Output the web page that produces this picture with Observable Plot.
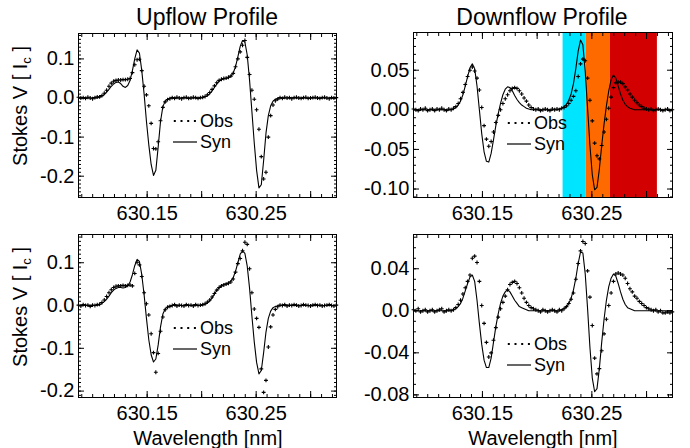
<!DOCTYPE html>
<html>
<head>
<meta charset="utf-8">
<script src="https://cdn.jsdelivr.net/npm/d3@7"></script>
<script src="https://cdn.jsdelivr.net/npm/@observablehq/plot@0.6"></script>
<style>
  body { margin: 0; background: #fff; }
  #chart { position: relative; width: 690px; height: 448px; font-family: "Liberation Sans", Arial, sans-serif; color: #000; overflow: hidden; }
  .panel { position: absolute; }
  .lbl { position: absolute; white-space: nowrap; transform: translate(-50%, -50%); line-height: 1; }
  .title { font-size: 23px; }
  .xlabel { font-size: 20px; }
  .ylabel { font-size: 20px; transform: translate(-50%, -50%) rotate(-90deg); }
  .ylabel sub { font-size: 13px; vertical-align: -4px; }
  .legend { position: absolute; overflow: visible; }
</style>
</head>
<body>
<div id="chart"></div>
<script>
// ---- data ----
const wavelength = [
  630.08700, 630.08915, 630.09130, 630.09345, 630.09560, 630.09775, 630.09990, 630.10205, 630.10420, 630.10635,
  630.10850, 630.11065, 630.11280, 630.11495, 630.11710, 630.11925, 630.12140, 630.12355, 630.12570, 630.12785,
  630.13000, 630.13215, 630.13430, 630.13645, 630.13860, 630.14075, 630.14290, 630.14505, 630.14720, 630.14935,
  630.15150, 630.15365, 630.15580, 630.15795, 630.16010, 630.16225, 630.16440, 630.16655, 630.16870, 630.17085,
  630.17300, 630.17515, 630.17730, 630.17945, 630.18160, 630.18375, 630.18590, 630.18805, 630.19020, 630.19235,
  630.19450, 630.19665, 630.19880, 630.20095, 630.20310, 630.20525, 630.20740, 630.20955, 630.21170, 630.21385,
  630.21600, 630.21815, 630.22030, 630.22245, 630.22460, 630.22675, 630.22890, 630.23105, 630.23320, 630.23535,
  630.23750, 630.23965, 630.24180, 630.24395, 630.24610, 630.24825, 630.25040, 630.25255, 630.25470, 630.25685,
  630.25900, 630.26115, 630.26330, 630.26545, 630.26760, 630.26975, 630.27190, 630.27405, 630.27620, 630.27835,
  630.28050, 630.28265, 630.28480, 630.28695, 630.28910, 630.29125, 630.29340, 630.29555, 630.29770, 630.29985,
  630.30200, 630.30415, 630.30630, 630.30845, 630.31060, 630.31275, 630.31490, 630.31705, 630.31920, 630.32135,
  630.32350
];

const upflowObsTop = [
  0.002, 0.000, 0.001, -0.001, 0.002, 0.000, -0.002, 0.001, 0.003,
  0.003, 0.006, 0.012, 0.020, 0.030, 0.038, 0.043, 0.045, 0.046, 0.046, 0.047, 0.047, 0.048, 0.050, 0.065, 0.085,
  0.098, 0.099, 0.070, 0.030, 0.008, -0.020, -0.065, -0.129, -0.130, -0.112, -0.058, -0.024, -0.010, -0.004, -0.002,
  0.001, -0.001, 0.002, 0.000, -0.002, 0.001, 0.002, -0.001, 0.000, 0.002, 0.001, -0.001, 0.001,
  0.002, 0.004, 0.008, 0.014, 0.022, 0.031, 0.039, 0.045, 0.048, 0.050, 0.051, 0.053, 0.056, 0.063, 0.080, 0.100,
  0.118, 0.135, 0.147, 0.104, 0.060, 0.020, -0.003, -0.030, -0.080, -0.150, -0.207, -0.190, -0.100, -0.045, -0.018,
  -0.007, -0.003,
  0.001, -0.001, 0.002, 0.000, 0.001, -0.002, 0.001, 0.002, 0.000, -0.001, 0.001, 0.002, -0.001, 0.000, 0.001,
  0.002, 0.000, -0.001, 0.001, 0.002, 0.000, -0.002, 0.001, 0.000, 0.001
];
const upflowSynTop = [
  0, 0, 0, 0, 0, 0, 0, 0, 0,
  0.002, 0.005, 0.009, 0.015, 0.022, 0.030, 0.036, 0.040, 0.041, 0.037, 0.030, 0.027, 0.032, 0.045, 0.070, 0.100,
  0.123, 0.115, 0.070, 0.010, -0.060, -0.120, -0.170, -0.198, -0.185, -0.125, -0.060, -0.022, -0.008, -0.003, -0.001,
  0, 0, 0, 0, 0, 0, 0, 0, 0, 0, 0, 0, 0,
  0.001, 0.003, 0.006, 0.011, 0.018, 0.027, 0.036, 0.043, 0.047, 0.049, 0.050, 0.052, 0.056, 0.064, 0.080, 0.105,
  0.132, 0.147, 0.143, 0.110, 0.045, -0.035, -0.115, -0.185, -0.230, -0.222, -0.160, -0.090, -0.045, -0.020, -0.008,
  -0.003, -0.001,
  0, 0, 0, 0, 0, 0, 0, 0, 0, 0, 0, 0, 0, 0, 0, 0, 0, 0, 0, 0, 0, 0, 0, 0, 0
];
const downflowObsTop = [
  0.001, 0.000, -0.001, 0.001, 0.000, 0.002, -0.001, 0.000, 0.001, -0.001, 0.001, 0.000, 0.002, 0.000, -0.001, 0.001, 0.000,
  0.002, 0.004, 0.008, 0.014, 0.022, 0.032, 0.042, 0.050, 0.054, 0.049, 0.040, 0.025, 0.003, -0.020, -0.037, -0.046,
  -0.040, -0.028, -0.016, -0.007, 0.000, 0.008, 0.014, 0.019, 0.024, 0.027, 0.028, 0.027, 0.024, 0.020, 0.015, 0.011,
  0.006, 0.003, 0.001,
  0.000, 0.001, -0.001, 0.000, 0.001, 0.000, -0.001, 0.001, 0.000, 0.001, 0.000, 0.002,
  0.003, 0.005, 0.008, 0.012, 0.017, 0.024, 0.042, 0.058, 0.064, 0.062, 0.040, 0.012, -0.014, -0.042, -0.058, -0.062,
  -0.045, -0.028, -0.012, 0.002, 0.016, 0.028, 0.034, 0.035, 0.035, 0.033, 0.029, 0.025, 0.020, 0.016, 0.012, 0.009,
  0.006, 0.004, 0.002, 0.001,
  0.000, 0.001, -0.001, 0.000, 0.001, 0.000, -0.001, 0.000, 0.001, -0.001, 0.000
];
const downflowSynTop = [
  0, 0, 0, 0, 0, 0, 0, 0, 0, 0, 0, 0, 0, 0, 0, 0, 0,
  0.001, 0.003, 0.006, 0.011, 0.019, 0.030, 0.042, 0.053, 0.058, 0.052, 0.030, 0.000, -0.030, -0.053, -0.065, -0.066,
  -0.055, -0.038, -0.020, -0.005, 0.008, 0.019, 0.026, 0.029, 0.028, 0.024, 0.018, 0.013, 0.009, 0.006, 0.004, 0.002,
  0.001, 0.000, 0.000,
  0, 0, 0, 0, 0, 0, 0, 0, 0, 0,
  0.001, 0.002, 0.004, 0.007, 0.012, 0.020, 0.033, 0.052, 0.074, 0.088, 0.082, 0.048, 0.002, -0.045, -0.082, -0.101,
  -0.098, -0.075, -0.045, -0.018, 0.005, 0.024, 0.038, 0.044, 0.040, 0.030, 0.020, 0.012, 0.007, 0.004, 0.002, 0.001,
  0, 0, 0, 0, 0, 0, 0, 0, 0, 0, 0, 0, 0, 0, 0, 0, 0
];
const upflowObsBottom = [
  0.001, -0.001, 0.002, 0.000, 0.001, -0.002, 0.001, 0.000, 0.002,
  0.003, 0.007, 0.013, 0.021, 0.030, 0.037, 0.042, 0.045, 0.046, 0.046, 0.047, 0.046, 0.047, 0.048, 0.046, 0.075,
  0.101, 0.095, 0.068, 0.030, 0.004, -0.022, -0.066, -0.110, -0.156, -0.112, -0.060, -0.027, -0.010, -0.004, -0.002,
  0.000, 0.002, -0.001, 0.001, 0.000, -0.001, 0.002, 0.000, 0.001, -0.001, 0.002, 0.000, 0.001,
  0.002, 0.004, 0.008, 0.013, 0.020, 0.028, 0.036, 0.042, 0.046, 0.048, 0.050, 0.052, 0.055, 0.062, 0.078, 0.098,
  0.110, 0.128, 0.148, 0.143, 0.086, 0.030, -0.008, -0.030, -0.051, -0.148, -0.203, -0.175, -0.097, -0.050, -0.022,
  -0.009, -0.003,
  0.001, 0.000, 0.002, -0.001, 0.001, 0.000, 0.002, 0.001, -0.001, 0.000, 0.002, 0.001, 0.000, -0.001, 0.001,
  0.002, 0.000, 0.001, -0.001, 0.000, 0.001, 0.002, 0.000, -0.001, 0.001
];
const upflowSynBottom = [
  0, 0, 0, 0, 0, 0, 0, 0, 0,
  0.002, 0.005, 0.009, 0.015, 0.022, 0.030, 0.036, 0.040, 0.042, 0.042, 0.041, 0.042, 0.046, 0.055, 0.072, 0.093,
  0.108, 0.103, 0.072, 0.025, -0.030, -0.080, -0.115, -0.132, -0.125, -0.092, -0.050, -0.020, -0.008, -0.003, -0.001,
  0, 0, 0, 0, 0, 0, 0, 0, 0, 0, 0, 0, 0,
  0.001, 0.003, 0.006, 0.011, 0.018, 0.027, 0.035, 0.042, 0.046, 0.049, 0.051, 0.053, 0.057, 0.065, 0.080, 0.100,
  0.120, 0.128, 0.122, 0.092, 0.040, -0.025, -0.085, -0.133, -0.160, -0.152, -0.110, -0.062, -0.030, -0.013, -0.005,
  -0.002, -0.001,
  0, 0, 0, 0, 0, 0, 0, 0, 0, 0, 0, 0, 0, 0, 0, 0, 0, 0, 0, 0, 0, 0, 0, 0, 0
];
const downflowObsBottom = [
  0.001, 0.000, 0.002, -0.001, 0.000, 0.001, -0.001, 0.000, 0.001, -0.001, 0.000, 0.001, 0.002, -0.001, 0.000, 0.001, 0.000,
  0.001, 0.003, 0.006, 0.010, 0.016, 0.022, 0.028, 0.034, 0.050, 0.052, 0.046, 0.028, 0.005, -0.012, -0.030, -0.044,
  -0.040, -0.028, -0.016, -0.006, 0.002, 0.008, 0.014, 0.020, 0.025, 0.027, 0.028, 0.026, 0.022, 0.017, 0.012, 0.008,
  0.005, 0.003, 0.002, 0.001,
  0.000, -0.001, 0.001, 0.000, -0.001, 0.000, 0.001, 0.000, -0.001, 0.001, 0.000,
  0.002, 0.004, 0.007, 0.011, 0.017, 0.030, 0.045, 0.057, 0.066, 0.064, 0.038, 0.013, -0.014, -0.045, -0.060, -0.055,
  -0.038, -0.022, -0.008, 0.005, 0.017, 0.028, 0.035, 0.036, 0.035, 0.034, 0.031, 0.026, 0.021, 0.018, 0.014, 0.012,
  0.009, 0.007, 0.005, 0.003, 0.002, 0.001,
  0.000, 0.001, -0.001, 0.000, -0.002, -0.002, -0.001, -0.002, -0.001
];
const downflowSynBottom = [
  0, 0, 0, 0, 0, 0, 0, 0, 0, 0, 0, 0, 0, 0, 0, 0, 0,
  0.001, 0.002, 0.004, 0.007, 0.012, 0.019, 0.026, 0.032, 0.034, 0.028, 0.010, -0.012, -0.032, -0.047, -0.054, -0.054,
  -0.045, -0.030, -0.015, -0.003, 0.007, 0.014, 0.018, 0.020, 0.018, 0.014, 0.010, 0.007, 0.004, 0.003, 0.002, 0.001,
  0, 0, 0, 0, 0, 0, 0, 0, 0, 0, 0, 0, 0, 0,
  0.001, 0.002, 0.004, 0.007, 0.012, 0.020, 0.031, 0.045, 0.056, 0.055, 0.035, 0.002, -0.035, -0.064, -0.077, -0.074,
  -0.055, -0.030, -0.008, 0.010, 0.023, 0.031, 0.035, 0.033, 0.026, 0.018, 0.011, 0.006, 0.003, 0.002, 0.001,
  0, 0, 0, 0, 0, 0, 0, 0, 0, 0, 0, 0, 0, 0, 0, 0, 0
];

// highlighted wavelength bands in the downflow (top-right) panel
const bandStart = [630.2237, 630.2448, 630.2668];
const bandEnd   = [630.2448, 630.2668, 630.3099];
const bandColors = ["#00e5ff", "#ff6a00", "#d20000"];

// axis ticks / labels
const xLabelValues = [630.15, 630.25];
const xLabelText = ["630.15", "630.25"];
const xMajorTicks = [630.15, 630.20, 630.25, 630.30];
const upYValues = [-0.2, -0.1, 0, 0.1];
const upYText = ["-0.2", "-0.1", "0.0", "0.1"];
const downTopYValues = [-0.10, -0.05, 0, 0.05];
const downTopYText = ["-0.10", "-0.05", "0.00", "0.05"];
const downBotYValues = [-0.08, -0.04, 0, 0.04];
const downBotYText = ["-0.08", "-0.04", "0.0", "0.04"];
const titles = ["Upflow Profile", "Downflow Profile"];
const legendText = ["Obs", "Syn"];
const xAxisTitle = "Wavelength [nm]";

// ---- drawing ----
const xDomain = [630.087, 630.3237];
const xMinorTicks = d3.range(630.09, 630.324, 0.01).map(v => +v.toFixed(2));
const FONT = "'Liberation Sans', Arial, sans-serif";

function makePanel(cfg) {
  const rows = wavelength.map((w, i) => ({w, obs: cfg.obs[i], syn: cfg.syn[i]}));
  const yMinor = d3.range(Math.ceil(cfg.yDomain[0] * 100), Math.floor(cfg.yDomain[1] * 100) + 1).map(v => v / 100);
  const yFmt = d => cfg.yText[cfg.yValues.indexOf(d)];
  const xFmt = d => xLabelText[xLabelValues.indexOf(d)];
  const marks = [];
  if (cfg.bands) {
    const bands = bandStart.map((s, i) => ({x1: s, x2: bandEnd[i], color: bandColors[i]}));
    marks.push(Plot.rect(bands, {x1: "x1", x2: "x2", fill: "color"}));
  }
  marks.push(
    Plot.line(rows, {x: "w", y: "syn", stroke: "#000", strokeWidth: 1.1}),
    Plot.dot(rows, {x: "w", y: "obs", symbol: "plus", r: 1.35, stroke: "#000", strokeWidth: 1.1}),
    Plot.frame({stroke: "#000", strokeWidth: 1}),
    Plot.axisX({anchor: "bottom", ticks: xMinorTicks, tickSize: -3, fill: "none"}),
    Plot.axisX({anchor: "top", ticks: xMinorTicks, tickSize: -3, fill: "none"}),
    Plot.axisX({anchor: "bottom", ticks: xMajorTicks, tickSize: -6, fill: "none"}),
    Plot.axisX({anchor: "top", ticks: xMajorTicks, tickSize: -6, fill: "none"}),
    Plot.axisX({anchor: "bottom", ticks: xLabelValues, tickSize: 0, tickPadding: 8, tickFormat: xFmt, stroke: "none", fontSize: 20, label: null}),
    Plot.axisY({anchor: "left", ticks: yMinor, tickSize: -3, fill: "none"}),
    Plot.axisY({anchor: "right", ticks: yMinor, tickSize: -3, fill: "none"}),
    Plot.axisY({anchor: "left", ticks: cfg.yValues, tickSize: -6, fill: "none"}),
    Plot.axisY({anchor: "right", ticks: cfg.yValues, tickSize: -6, fill: "none"}),
    Plot.axisY({anchor: "left", ticks: cfg.yValues, tickSize: 0, tickPadding: 4, tickFormat: yFmt, stroke: "none", fontSize: 20, label: null})
  );
  const svg = Plot.plot({
    width: 345, height: 224,
    marginLeft: cfg.m[0], marginRight: cfg.m[1], marginTop: cfg.m[2], marginBottom: cfg.m[3],
    x: {domain: xDomain},
    y: {domain: cfg.yDomain},
    color: {type: "identity"},
    style: {fontFamily: FONT, fontSize: "20px", color: "#000", background: "transparent", overflow: "visible"},
    marks
  });
  svg.classList.add("panel");
  svg.style.left = cfg.pos[0] + "px";
  svg.style.top = cfg.pos[1] + "px";
  return svg;
}

const chart = document.getElementById("chart");

const panels = [
  {obs: upflowObsTop, syn: upflowSynTop, yDomain: [-0.2545, 0.165], yValues: upYValues, yText: upYText,
   m: [78, 9, 33, 27], pos: [0, 0]},
  {obs: downflowObsTop, syn: downflowSynTop, yDomain: [-0.1107, 0.0976], yValues: downTopYValues, yText: downTopYText,
   m: [68, 18, 32, 27], pos: [345, 0], bands: true},
  {obs: upflowObsBottom, syn: upflowSynBottom, yDomain: [-0.215, 0.166], yValues: upYValues, yText: upYText,
   m: [78, 9, 10, 51], pos: [0, 224]},
  {obs: downflowObsBottom, syn: downflowSynBottom, yDomain: [-0.0825, 0.0726], yValues: downBotYValues, yText: downBotYText,
   m: [68, 18, 10, 51], pos: [345, 224]}
];
panels.forEach(p => chart.appendChild(makePanel(p)));

function addLabel(cls, html, x, y) {
  const d = document.createElement("div");
  d.className = "lbl " + cls;
  d.innerHTML = html;
  d.style.left = x + "px";
  d.style.top = y + "px";
  chart.appendChild(d);
}
addLabel("title", titles[0], 207, 17);
addLabel("title", titles[1], 542, 17);
addLabel("ylabel", "Stokes V [ I<sub>c</sub> ]", 21, 106);
addLabel("ylabel", "Stokes V [ I<sub>c</sub> ]", 21, 307);
addLabel("xlabel", xAxisTitle, 208, 438);
addLabel("xlabel", xAxisTitle, 543, 438);

function addLegend(x, yObs, ySyn) {
  const ns = "http://www.w3.org/2000/svg";
  const svg = document.createElementNS(ns, "svg");
  svg.setAttribute("class", "legend");
  svg.setAttribute("width", 70);
  svg.setAttribute("height", 44);
  svg.style.left = x + "px";
  svg.style.top = (yObs - 11) + "px";
  const dy = ySyn - yObs;
  [0, 6.7, 13.4, 20.1].forEach(cx => {
    const c = document.createElementNS(ns, "rect");
    c.setAttribute("x", cx + 0.8); c.setAttribute("y", 10); c.setAttribute("width", 2); c.setAttribute("height", 2);
    c.setAttribute("fill", "#000");
    svg.appendChild(c);
  });
  const l = document.createElementNS(ns, "line");
  l.setAttribute("x1", 0); l.setAttribute("x2", 24);
  l.setAttribute("y1", 11 + dy); l.setAttribute("y2", 11 + dy);
  l.setAttribute("stroke", "#000"); l.setAttribute("stroke-width", 1.2);
  svg.appendChild(l);
  legendText.forEach((t, i) => {
    const tx = document.createElementNS(ns, "text");
    tx.setAttribute("x", 27);
    tx.setAttribute("y", 11 + i * dy);
    tx.setAttribute("dy", "0.35em");
    tx.setAttribute("font-family", FONT);
    tx.setAttribute("font-size", 18);
    tx.textContent = t;
    svg.appendChild(tx);
  });
  chart.appendChild(svg);
}
addLegend(173, 121, 142);
addLegend(507, 123, 144);
addLegend(173, 328, 349);
addLegend(507, 344, 365);
</script>
</body>
</html>
